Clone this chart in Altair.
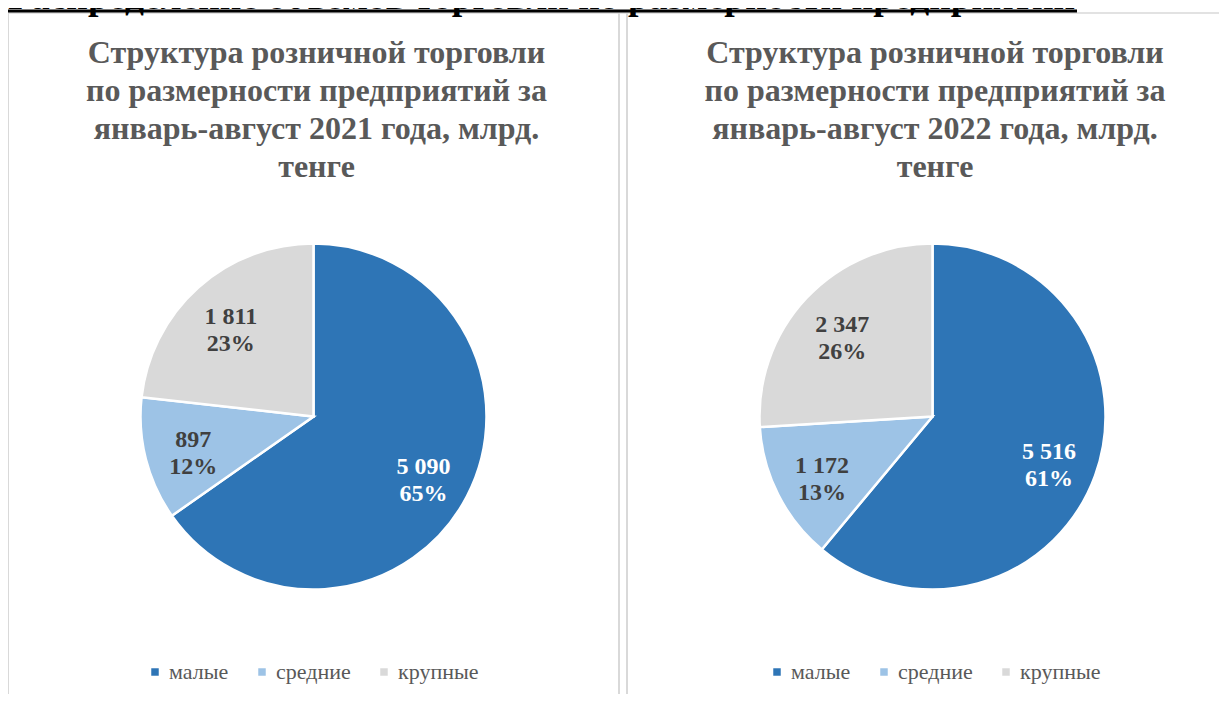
import altair as alt
import pandas as pd

categories = ["малые", "средние", "крупные"]
values_2021 = [5090, 897, 1811]
values_2022 = [5516, 1172, 2347]
shares_2021 = [65, 12, 23]
shares_2022 = [61, 13, 26]
slice_colors = ["#2E75B6", "#9DC3E6", "#D9D9D9"]
label_colors = ["#FFFFFF", "#404040", "#404040"]

banner = "Распределение объемов торговли по размерности предприятий"
title_2021 = ["Структура розничной торговли", "по размерности предприятий за",
              "январь-август 2021 года, млрд.", "тенге"]
title_2022 = ["Структура розничной торговли", "по размерности предприятий за",
              "январь-август 2022 года, млрд.", "тенге"]

W, H = 1211, 686
FONT = "Liberation Serif"
BORDER = "#D9D9D9"
R = 173


def frame(values, shares):
    return pd.DataFrame({
        "cat": categories,
        "order": list(range(len(categories))),
        "value": values,
        "label": [f"{v:,}".replace(",", " ") + "\n" + f"{s}%" for v, s in zip(values, shares)],
        "tcol": label_colors,
    })


def pie(values, shares, cx, cy, lx, ly):
    df = frame(values, shares)
    base = alt.Chart(df).encode(
        theta=alt.Theta("value:Q", stack=True),
        order=alt.Order("order:Q"),
    )
    arcs = base.mark_arc(outerRadius=R, stroke="white", strokeWidth=2.5).encode(
        x=alt.value(cx), y=alt.value(cy),
        color=alt.Color("cat:N", scale=alt.Scale(domain=categories, range=slice_colors),
                        legend=alt.Legend(orient="none", legendX=lx, legendY=ly,
                                          direction="horizontal", title=None,
                                          symbolType="square", symbolSize=56,
                                          symbolStrokeWidth=0, labelFont=FONT,
                                          labelFontSize=22, labelColor="#595959",
                                          columnPadding=22, labelOffset=3, padding=0)),
    )
    labels = base.mark_text(radius=124, dy=-7, font=FONT, fontSize=24, fontWeight="bold",
                            lineBreak="\n", lineHeight=27).encode(
        x=alt.value(cx), y=alt.value(cy),
        text="label:N",
        color=alt.Color("tcol:N", scale=None),
    )
    return [arcs, labels]


def title(lines, cx):
    return alt.Chart(pd.DataFrame({"t": ["\n".join(lines)]})).mark_text(
        font=FONT, fontSize=32, fontWeight="bold", color="#595959",
        lineBreak="\n", lineHeight=38, align="center", baseline="alphabetic",
    ).encode(text="t:N", x=alt.value(cx), y=alt.value(55))


one = pd.DataFrame({"k": [0]})

def vline(x):
    return alt.Chart(one).mark_rule(color=BORDER, strokeWidth=2).encode(
        x=alt.value(x), y=alt.value(5), y2=alt.value(H))

top_border = alt.Chart(one).mark_rule(color=BORDER, strokeWidth=1.5).encode(
    x=alt.value(0), x2=alt.value(W), y=alt.value(5))
underline = alt.Chart(one).mark_rule(color="black", strokeWidth=3).encode(
    x=alt.value(0), x2=alt.value(1069), y=alt.value(3))
banner_text = alt.Chart(pd.DataFrame({"t": [banner]})).mark_text(
    font=FONT, fontSize=37.5, fontWeight="bold", color="black",
    align="left", baseline="alphabetic",
).encode(text="t:N", x=alt.value(0), y=alt.value(1))

layers = [top_border, vline(0), vline(611), vline(619), banner_text, underline,
          title(title_2021, 308.5), title(title_2022, 927)]
layers += pie(values_2021, shares_2021, 305.5, 408.5, 136, 653)
layers += pie(values_2022, shares_2022, 924.5, 408.5, 758, 653)

chart = alt.layer(*layers).resolve_scale(
    theta="independent", color="independent"
).properties(
    width=W, height=H, autosize=alt.AutoSizeParams(type="none"), padding=0,
    background="white",
).configure_view(stroke=None)

chart.save("out.html", embed_options={"renderer": "svg", "actions": False})
